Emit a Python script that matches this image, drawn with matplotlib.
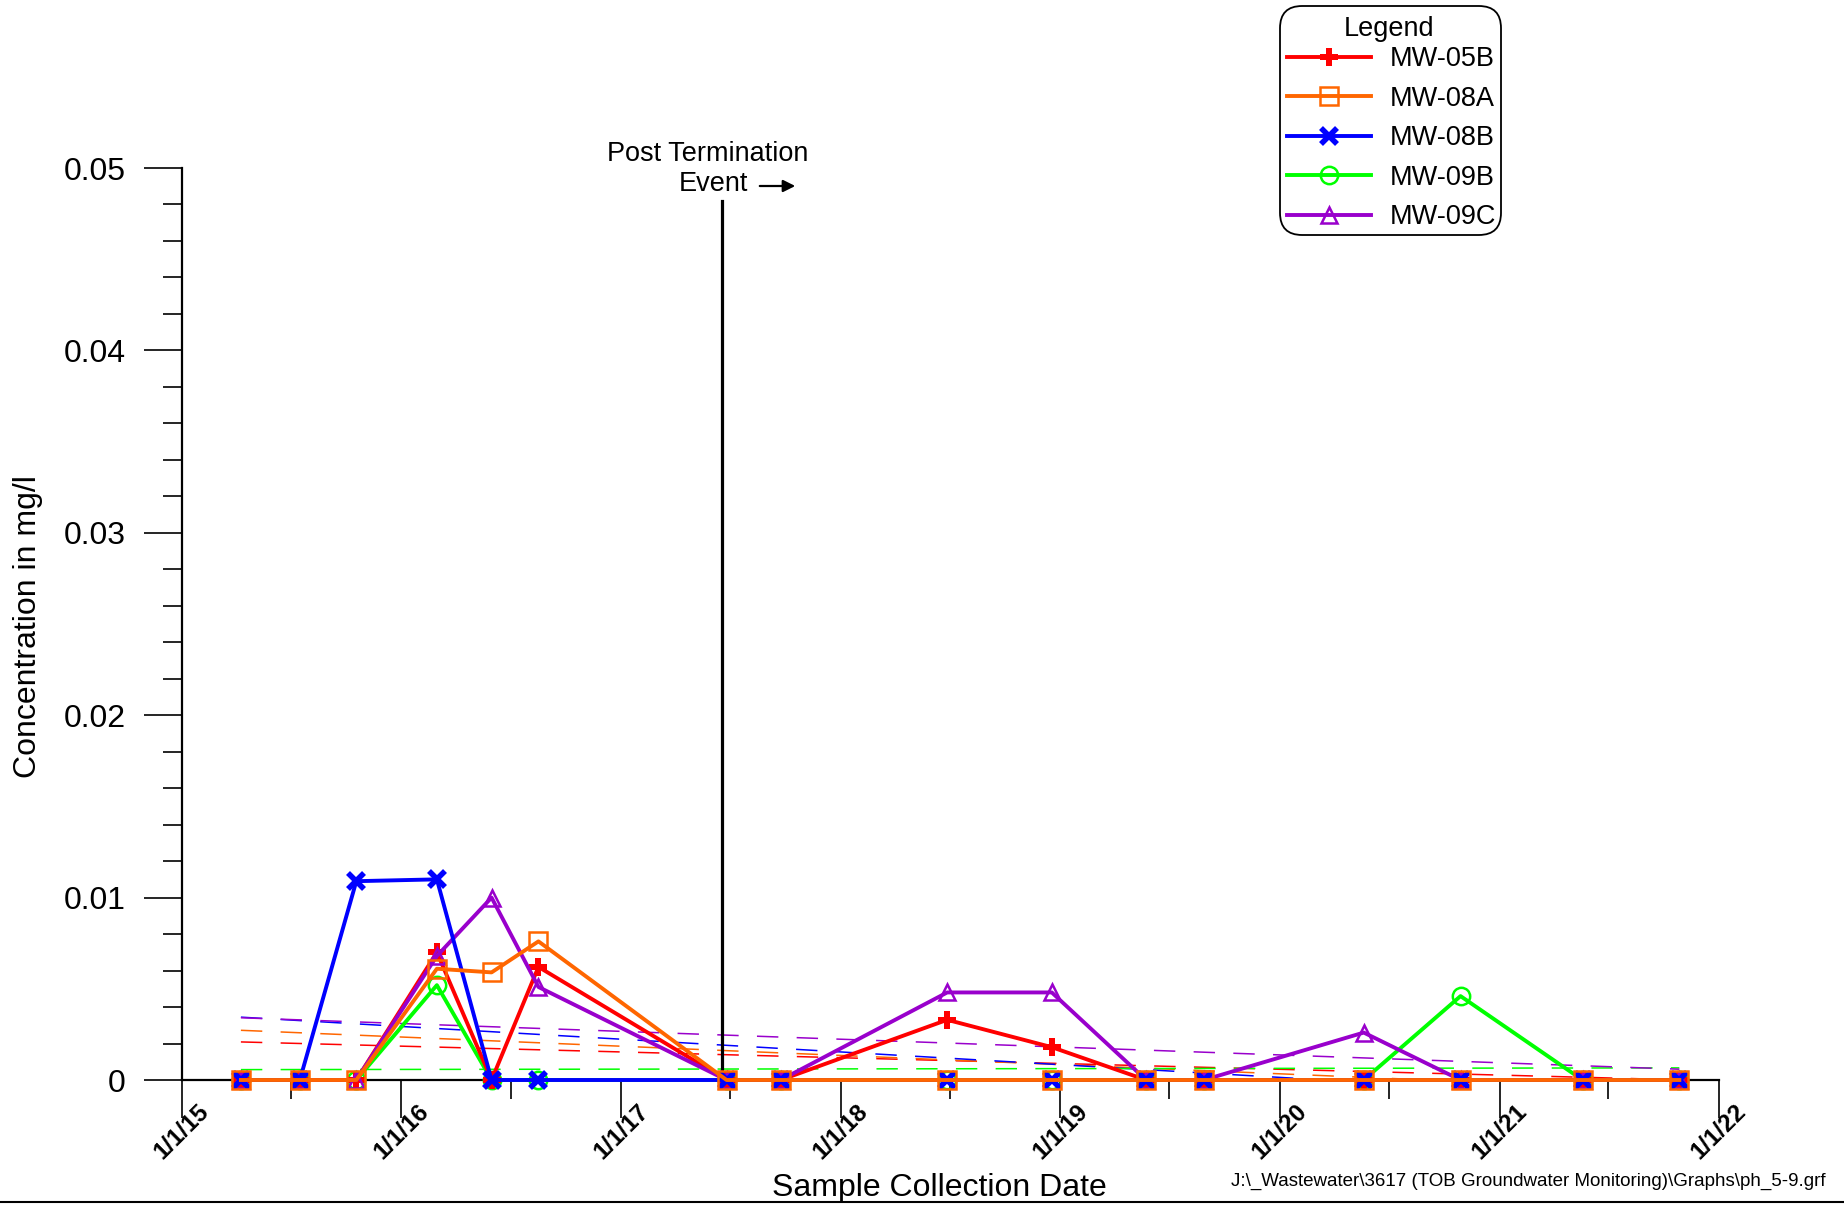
import datetime as dt
import numpy as np
import matplotlib
matplotlib.use("Agg")
import matplotlib.pyplot as plt
import matplotlib.dates as mdates
from matplotlib.lines import Line2D
from matplotlib.patches import FancyBboxPatch

plt.rcParams['font.family'] = ['Liberation Sans', 'DejaVu Sans']

# ---------------- data ----------------
sample_dates = ["2015-04-09", "2015-07-16", "2015-10-18", "2016-02-29", "2016-05-30",
                "2016-08-16", "2017-06-25", "2017-09-23", "2018-06-27", "2018-12-18",
                "2019-05-24", "2019-08-28", "2020-05-20", "2020-10-28", "2021-05-19",
                "2021-10-27"]
mw05b = [0, 0, 0, 0.0070, 0, 0.0062, 0, 0, 0.0033, 0.0018, 0, 0, 0, 0, 0, 0]
mw08a = [0, 0, 0, 0.0061, 0.0059, 0.0076, 0, 0, 0, 0, 0, 0, 0, 0, 0, 0]
mw08b = [0, 0, 0.0109, 0.0110, 0, 0, 0, 0, 0, 0, 0, 0, 0, 0, 0, 0]
mw09b = [0, 0, 0, 0.0052, 0, 0, 0, 0, 0, 0, 0, 0, 0, 0.0046, 0, 0]
mw09c = [0, 0, 0, 0.0068, 0.0100, 0.0051, 0, 0, 0.0048, 0.0048, 0, 0, 0.0026, 0, 0, 0]

series_names = ["MW-05B", "MW-08A", "MW-08B", "MW-09B", "MW-09C"]
series_values = [mw05b, mw08a, mw08b, mw09b, mw09c]

termination_date = "2017-06-18"
termination_line_top = 0.0482

year_ticks = ["2015-01-01", "2016-01-01", "2017-01-01", "2018-01-01", "2019-01-01",
              "2020-01-01", "2021-01-01", "2022-01-01"]
year_tick_labels = ["1/1/15", "1/1/16", "1/1/17", "1/1/18", "1/1/19", "1/1/20", "1/1/21", "1/1/22"]
mid_year_ticks = ["2015-07-01", "2016-07-01", "2017-07-01", "2018-07-01", "2019-07-01",
                  "2020-07-01", "2021-07-01"]
y_major = [0, 0.01, 0.02, 0.03, 0.04, 0.05]
y_major_labels = ["0", "0.01", "0.02", "0.03", "0.04", "0.05"]
y_minor_step = 0.002

# ---------------- styles ----------------
styles = {
    "MW-05B": dict(color="#FF0000", marker="P", ms=13, mew=0, mfc="#FF0000", zorder=5),
    "MW-08A": dict(color="#FF6600", marker="s", ms=12.5, mew=1.8, mfc="none", zorder=8),
    "MW-08B": dict(color="#0000FF", marker="x", ms=12, mew=4, mfc="#0000FF", zorder=7),
    "MW-09B": dict(color="#00FF00", marker="o", ms=12.5, mew=1.8, mfc="none", zorder=4),
    "MW-09C": dict(color="#9900CC", marker="^", ms=11.5, mew=1.8, mfc="none", zorder=6),
}
LW = 2.8


def to_date(s):
    return dt.datetime.strptime(s, "%Y-%m-%d")


dates = [to_date(s) for s in sample_dates]
xnum = mdates.date2num(dates)

W, H = 1844, 1205
fig = plt.figure(figsize=(W / 100, H / 100), dpi=100)
ax = fig.add_axes([182 / W, 1 - 1080 / H, (1719 - 182) / W, (1080 - 168) / H])

# trend lines (linear fit of each series)
for name, vals in zip(series_names, series_values):
    st = styles[name]
    coef = np.polyfit(xnum, np.array(vals), 1)
    xs = np.array([xnum[0], xnum[-1]])
    ax.plot(mdates.num2date(xs), np.polyval(coef, xs), color=st["color"], lw=1.1,
            dashes=(14, 12), zorder=2)

# data lines
for name, vals in zip(series_names, series_values):
    st = styles[name]
    ax.plot(dates, vals, color=st["color"], lw=LW, marker=st["marker"], ms=st["ms"],
            mew=st["mew"], mfc=st["mfc"], mec=st["color"], zorder=st["zorder"],
            clip_on=False, label=name)

# post termination line
td = to_date(termination_date)
ax.plot([td, td], [0, termination_line_top], color="black", lw=2.3, zorder=3, clip_on=False)

ax.set_xlim(to_date(year_ticks[0]), to_date(year_ticks[-1]))
ax.set_ylim(0, 0.05)

for sp in ["top", "right"]:
    ax.spines[sp].set_visible(False)
for sp in ["left", "bottom"]:
    ax.spines[sp].set_linewidth(1.6)

ax.set_xticks([to_date(s) for s in year_ticks])
ax.set_xticklabels(year_tick_labels, rotation=45, ha="center", va="center",
                   fontsize=17.5, fontweight="bold")
ax.set_xticks([to_date(s) for s in mid_year_ticks], minor=True)
ax.set_yticks(y_major)
ax.set_yticklabels(y_major_labels, fontsize=23)
ax.set_yticks(np.arange(0, 0.05 + 1e-9, y_minor_step), minor=True)

ax.tick_params(axis="both", which="major", direction="out", length=27.4, width=1.2, color="black")
ax.tick_params(axis="both", which="minor", direction="out", length=13.7, width=1.2, color="black")
ax.tick_params(axis="x", which="major", pad=10)
ax.tick_params(axis="y", which="major", pad=13)

# axis labels
fig.text(28 / W, 1 - 627 / H, "Concentration in mg/l", rotation=90, ha="center", va="center",
         fontsize=23)
fig.text(939 / W, 1 - 1188 / H, "Sample Collection Date", ha="center", va="center", fontsize=23)

# annotation
fig.text(708 / W, 1 - 154 / H, "Post Termination", ha="center", va="center", fontsize=19.5)
fig.text(713 / W, 1 - 184 / H, "Event", ha="center", va="center", fontsize=19.5)
ax.annotate("", xy=(798, H - 186), xycoords="figure pixels", xytext=(757, H - 186),
            textcoords="figure pixels",
            arrowprops=dict(arrowstyle="-|>", color="black", lw=1.6, mutation_scale=18))

# footer
fig.text(1826 / W, 1 - 1181 / H,
         r"J:\_Wastewater\3617 (TOB Groundwater Monitoring)\Graphs\ph_5-9.grf",
         ha="right", va="center", fontsize=13.5)
fig.add_artist(Line2D([0, 1], [1 - 1202 / H, 1 - 1202 / H], color="black", lw=1.5,
                      transform=fig.transFigure))

# legend: rounded frame, title and entries
bx0, bx1, by0, by1 = 1280, 1501, 6, 235  # pixel box (top-left origin)
frame = FancyBboxPatch((bx0 / W, 1 - by1 / H), (bx1 - bx0) / W, (by1 - by0) / H,
                       boxstyle="round,pad=0,rounding_size=0.012",
                       transform=fig.transFigure, facecolor="white", edgecolor="black",
                       lw=1.3, mutation_aspect=W / H, zorder=10)
fig.add_artist(frame)
fig.text(1389 / W, 1 - 29 / H, "Legend", ha="center", va="center", fontsize=19.5, zorder=11)

handles = []
for name in series_names:
    st = styles[name]
    handles.append(Line2D([], [], color=st["color"], lw=LW, marker=st["marker"], ms=st["ms"],
                          mew=st["mew"], mfc=st["mfc"], mec=st["color"]))
leg = fig.legend(handles, series_names, loc="upper left",
                 bbox_to_anchor=(1287 / W, 1 - 46 / H), fontsize=19.5,
                 frameon=False, handlelength=3.1, handletextpad=0.7, labelspacing=0.5,
                 borderpad=0, borderaxespad=0)
leg.set_zorder(12)

fig.savefig("out.png", dpi=100)
